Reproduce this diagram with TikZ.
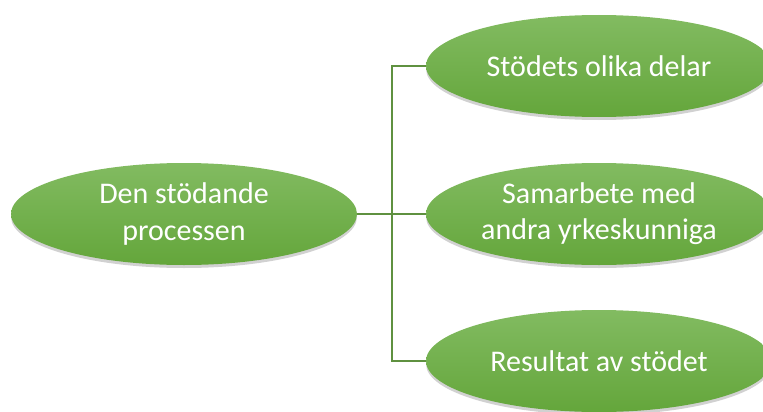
\documentclass[tikz,border=0pt]{standalone}
\usepackage{fontspec}
\setmainfont{Carlito}
\usetikzlibrary{shapes.geometric,shadows}
\definecolor{gtop}{HTML}{82BB61}
\definecolor{gbot}{HTML}{64A63B}
\definecolor{gline}{HTML}{5F9140}
\tikzset{
  bubble/.style={ellipse, inner sep=0pt, minimum width=346pt, minimum height=102pt,
    top color=gtop, bottom color=gbot, draw=none, text=white, align=center,
    font=\fontsize{30}{36}\selectfont,
    drop shadow={shadow xshift=0pt, shadow yshift=-3pt, opacity=0.3, fill=black!60}},
  link/.style={draw=gline, line width=1.5pt}
}
\begin{document}
\begin{tikzpicture}[x=1pt,y=-1pt]
\useasboundingbox (0,0) rectangle (763,412);
\clip (0,0) rectangle (763,412);
\node[bubble] (root) at (184,214) {Den stödande\\processen};
\node[bubble] (a) at (599,66) {Stödets olika delar};
\node[bubble] (b) at (599,214) {Samarbete med\\andra yrkeskunniga};
\node[bubble] (c) at (599,361) {Resultat av stödet};
\coordinate (j) at (392,214);
\draw[link] (root.east) -- (j);
\draw[link] (j) |- (a.west);
\draw[link] (j) -- (b.west);
\draw[link] (j) |- (c.west);
\end{tikzpicture}
\end{document}
